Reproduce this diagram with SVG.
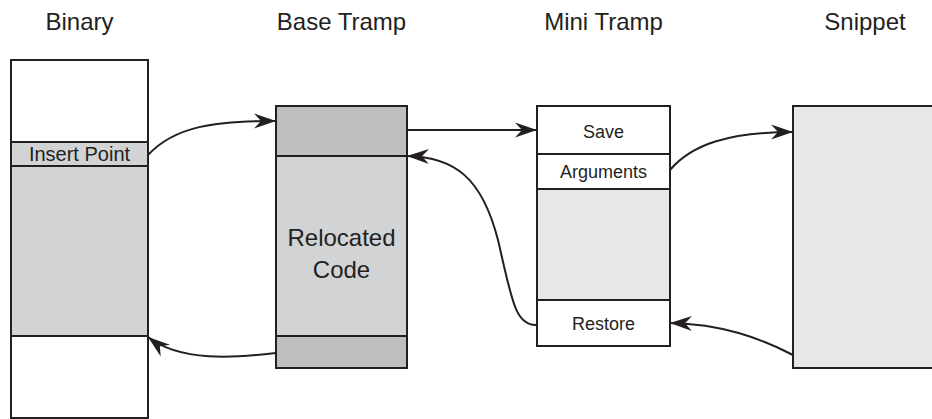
<svg xmlns="http://www.w3.org/2000/svg" width="932" height="419" viewBox="0 0 932 419">
  <style>
    .box { stroke: #231f20; stroke-width: 2; }
    .white { fill: #ffffff; }
    .light { fill: #d1d3d4; }
    .dark { fill: #bcbec0; }
    .pale { fill: #e6e7e8; }
    .title { font-family: "Liberation Sans", Arial, sans-serif; font-size: 24px; fill: #231f20; text-anchor: middle; }
    .label { font-family: "Liberation Sans", Arial, sans-serif; font-size: 18px; fill: #231f20; text-anchor: middle; }
    .big { font-family: "Liberation Sans", Arial, sans-serif; font-size: 24px; fill: #231f20; text-anchor: middle; }
    .conn { fill: none; stroke: #231f20; stroke-width: 2; marker-end: url(#arrow); }
  </style>
  <defs>
    <marker id="arrow" markerUnits="userSpaceOnUse" markerWidth="24" markerHeight="16" viewBox="-22 -8 24 16" refX="0" refY="0" orient="auto">
      <path d="M0,0 L-22,-7.5 L-15,0 L-22,7.5 Z" fill="#231f20"/>
    </marker>
  </defs>

  <rect width="932" height="419" fill="#ffffff"/>

  <!-- column headings -->
  <g id="titles">
    <text class="title" x="79.5" y="30">Binary</text>
    <text class="title" x="341.5" y="30">Base Tramp</text>
    <text class="title" x="603.5" y="30">Mini Tramp</text>
    <text class="title" x="865" y="30">Snippet</text>
  </g>

  <!-- Binary -->
  <g id="binary">
    <rect class="box white" x="11" y="60" width="137" height="82"/>
    <rect class="box light" x="11" y="142" width="137" height="24"/>
    <rect class="box light" x="11" y="166" width="137" height="170"/>
    <rect class="box white" x="11" y="336" width="137" height="82"/>
    <text class="label" x="79.5" y="161" style="font-size:20px">Insert Point</text>
  </g>

  <!-- Base Tramp -->
  <g id="base-tramp">
    <rect class="box dark" x="276" y="106" width="131" height="50"/>
    <rect class="box light" x="276" y="156" width="131" height="180"/>
    <rect class="box dark" x="276" y="336" width="131" height="32"/>
    <text class="big" x="341.5" y="246">Relocated</text>
    <text class="big" x="341.5" y="278">Code</text>
  </g>

  <!-- Mini Tramp -->
  <g id="mini-tramp">
    <rect class="box white" x="537" y="106" width="133" height="48"/>
    <rect class="box white" x="537" y="154" width="133" height="35"/>
    <rect class="box pale" x="537" y="189" width="133" height="111"/>
    <rect class="box white" x="537" y="300" width="133" height="46"/>
    <text class="label" x="603.5" y="138">Save</text>
    <text class="label" x="603.5" y="178">Arguments</text>
    <text class="label" x="603.5" y="330">Restore</text>
  </g>

  <!-- Snippet -->
  <g id="snippet">
    <rect class="box pale" x="793" y="106" width="150" height="262"/>
  </g>

  <!-- connectors -->
  <g id="connectors">
    <path class="conn" d="M148,155 C175,126 215,121 276,121"/>
    <path class="conn" d="M407,130 L537,130"/>
    <path class="conn" d="M537,325 C515,326 512,300 498,240 C482,178 455,157 407,156"/>
    <path class="conn" d="M670,170 C692,144 730,132 793,132"/>
    <path class="conn" d="M793,355 C760,338 722,324 670,323"/>
    <path class="conn" d="M276,353 C235,358 180,362 148,337"/>
  </g>
</svg>
